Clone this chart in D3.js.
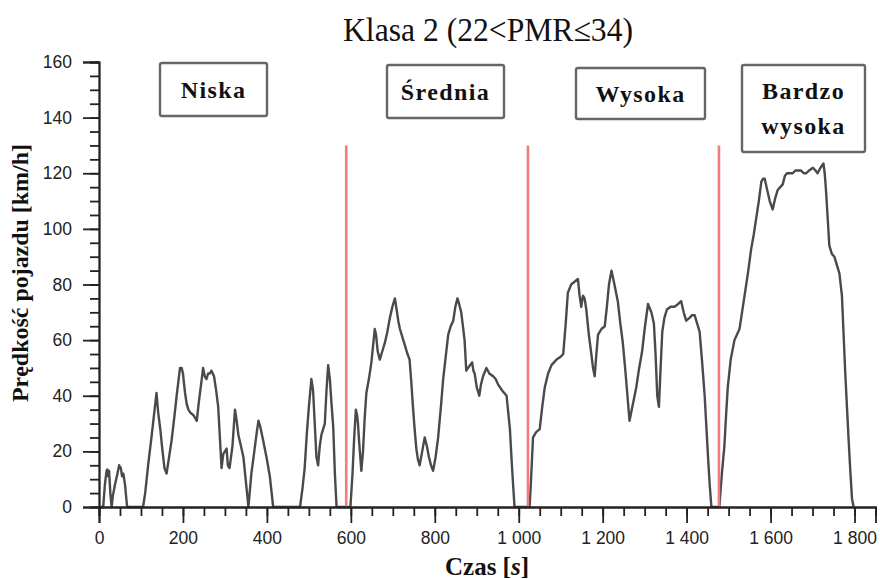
<!DOCTYPE html>
<html><head><meta charset="utf-8">
<script src="https://cdn.jsdelivr.net/npm/d3@7/dist/d3.min.js"></script>
<style>body{margin:0;background:#fff}</style></head>
<body><svg id="c" width="880" height="579" xmlns="http://www.w3.org/2000/svg"></svg>
<script>
// ---- data ----
const lowTime  = [0,10,14,18,20,22,24,27,30,33,38,44,48,52,55,58,62,67,105,110,117,125,131,137,141,146,150,156,161,166,173,180,185,189,193,197,200,205,209,213,217,225,233,238,244,248,252,256,260,264,268,274,279,284,288,292,296,300,304,307,311,318,324,328,332,338,344,350,356,363,370,376,380,384,391,399,407,415,479,485,490,495,500,506,510,514,518,522,526,530,534,538,542,546,550,554,558,562,566,589];
const lowSpeed = [0,0,8,13,13.5,11,13,5,0,4,8,12,15,14,11,12,8,0,0,5,15,25,33,41,34,28,22,14,12,17,24,33,40,45,50,50,48,41,37,35,34,33,31,38,45,50,47,46,48,48,49,47,42,36,25,14,19,20,21,15,14,22,35,31,26,22,18,9,0,12,20,27,31,29,24,18,11,0,0,7,14,26,36,46,42,30,18,15,22,26,28,30,42,51,46,37,29,12,0,0];
const midTime  = [589,599,604,608,612,615,617,620,623,625,629,633,637,643,649,653,657,660,664,669,675,681,687,693,699,705,709,713,717,723,729,735,740,744,748,752,756,760,764,770,776,781,786,791,796,802,808,814,820,826,832,838,844,849,854,858,863,867,871,875,879,884,889,892,895,900,906,910,915,923,930,939,945,951,960,971,975,979,983,987,990,1022];
const midSpeed = [0,0,12,25,35,33,30,23,17,13,20,32,41,46,52,58,64,62,56,53,56,59,63,68,72,75,71,67,64,61,58,55,53,45,36,28,21,17,15,20,25,22,18,15,13,18,25,35,46,54,62,65,67,72,75,73,70,65,60,49,50,51,52,49,48,43,40,44,47,50,48,47,46,44,42,40,34,28,17,7,0,0];
const highTime = [1022,1026,1030,1034,1042,1050,1056,1062,1070,1078,1090,1100,1106,1112,1117,1125,1133,1141,1145,1149,1153,1157,1161,1167,1173,1177,1181,1185,1189,1197,1205,1210,1215,1221,1228,1236,1242,1248,1254,1259,1264,1272,1280,1287,1294,1300,1308,1316,1322,1326,1330,1334,1338,1342,1347,1353,1362,1371,1380,1387,1393,1399,1407,1413,1419,1425,1431,1437,1443,1447,1451,1455,1459,1477];
const highSpeed= [0,0,12,25,27,28,36,43,48,51,53,54,55,66,77,80,81,82,76,72,76,75,71,62,55,50,47,55,62,64,65,72,80,85,80,74,66,59,49,40,31,37,43,50,56,64,73,70,66,55,40,36,50,63,68,71,72,72,73,74,70,67,68,69,69,66,63,52,40,29,18,8,0,0];
const exTime   = [1477,1478,1484,1490,1494,1498,1505,1514,1520,1526,1532,1538,1546,1554,1560,1566,1572,1578,1582,1586,1592,1598,1605,1611,1617,1623,1629,1634,1639,1646,1653,1659,1665,1672,1679,1685,1692,1701,1707,1712,1719,1726,1729,1732,1736,1740,1746,1752,1758,1764,1770,1774,1778,1782,1786,1790,1794,1798,1800];
const exSpeed  = [0,0,12,22,33,43,53,60,62,64,70,76,84,93,98,104,110,117,118,118,114,110,107,111,114,115,116,119,120,120,120,121,121,121,120,120,121,122,121,120,122,123.5,120,114,104,94,91,90,87,84,76,62,48,36,24,13,3,0,0];
const phaseBounds = [589,1022,1477];
const phaseLabels = [["Niska"],["Średnia"],["Wysoka"],["Bardzo","wysoka"]];
const xMajorTicks = [0,200,400,600,800,1000,1200,1400,1600,1800];
const yMajorTicks = [0,20,40,60,80,100,120,140,160];
const titleText = "Klasa 2 (22<PMR≤34)";
const yTitle = "Prędkość pojazdu [km/h]";

// ---- layout ----
const svg = d3.select("#c");
const x = d3.scaleLinear().domain([0,1850]).range([99, 875.5]);
const y = d3.scaleLinear().domain([0,160]).range([507, 62]);
const fmtX = d => d3.format(",d")(d).replace(/,/g," ");
const tickFont = "'Liberation Sans', Arial, sans-serif";
const axisCol = "#222222";
const serif = "'Liberation Serif','Times New Roman',serif";

// data line
const line = d3.line().x(d=>x(d[0])).y(d=>y(d[1]));
const series = [[lowTime,lowSpeed],[midTime,midSpeed],[highTime,highSpeed],[exTime,exSpeed]];
const pts = [];
series.forEach(([t,s])=>t.forEach((tt,i)=>pts.push([tt,s[i]])));
svg.append("path").datum(pts).attr("d",line).attr("fill","none")
  .attr("stroke","#4a4a4a").attr("stroke-width",2.4).attr("stroke-linejoin","round");

// phase boundaries
svg.selectAll(".pb").data(phaseBounds).enter().append("line")
  .attr("x1",d=>x(d)).attr("x2",d=>x(d)).attr("y1",y(0)).attr("y2",y(130))
  .attr("stroke","#f27b7b").attr("stroke-width",2.6);

// phase label boxes
const boxes = [
  {x0:160,y0:63,x1:267,y1:116},
  {x0:387,y0:65,x1:504,y1:118},
  {x0:576,y0:68,x1:705,y1:119},
  {x0:742,y0:65,x1:865,y1:152}
];
boxes.forEach((b,i)=>{
  svg.append("rect").attr("x",b.x0).attr("y",b.y0).attr("width",b.x1-b.x0).attr("height",b.y1-b.y0)
    .attr("rx",2).attr("fill","#fff").attr("stroke","#666").attr("stroke-width",2.4);
  const lines = phaseLabels[i];
  const cy = (b.y0+b.y1)/2;
  lines.forEach((txt,j)=>{
    svg.append("text").attr("x",(b.x0+b.x1)/2).attr("y",cy + (j-(lines.length-1)/2)*35 + 8)
      .attr("text-anchor","middle").attr("font-family",serif).attr("font-weight","bold")
      .attr("font-size",24).attr("letter-spacing",1.4).attr("fill","#111").text(txt);
  });
});

// axes (drawn last, on top)
const xMinor = svg.append("g").attr("transform",`translate(0,${y(0)})`)
  .call(d3.axisBottom(x).tickValues(d3.range(0,1851,50)).tickSize(9).tickFormat(()=>""));
const xMajor = svg.append("g").attr("transform",`translate(0,${y(0)})`)
  .call(d3.axisBottom(x).tickValues(xMajorTicks).tickSize(16).tickPadding(9).tickFormat(fmtX));
const yMinor = svg.append("g").attr("transform",`translate(${x(0)},0)`)
  .call(d3.axisLeft(y).tickValues(d3.range(0,161,5)).tickSize(9).tickFormat(()=>""));
const yMajor = svg.append("g").attr("transform",`translate(${x(0)},0)`)
  .call(d3.axisLeft(y).tickValues(yMajorTicks).tickSize(16).tickPadding(11));
[xMinor,xMajor,yMinor,yMajor].forEach(g=>{
  g.selectAll(".tick line").attr("stroke",axisCol).attr("stroke-width",1.8);
  g.selectAll(".domain").attr("stroke",axisCol).attr("stroke-width",1.8);
  g.selectAll("text").attr("font-family",tickFont).attr("font-size",17.5).attr("fill","#222");
});

// titles
svg.append("text").attr("x",488).attr("y",41).attr("text-anchor","middle")
  .attr("font-family",serif).attr("font-size",33).attr("fill","#111")
  .attr("textLength",290).attr("lengthAdjust","spacingAndGlyphs").text(titleText);
svg.append("text").attr("transform",`translate(28,273) rotate(-90)`).attr("text-anchor","middle")
  .attr("font-family",serif).attr("font-weight","bold").attr("font-size",24)
  .attr("textLength",258).attr("lengthAdjust","spacingAndGlyphs")
  .attr("fill","#111").text(yTitle);
const xt = svg.append("text").attr("x",487).attr("y",575).attr("text-anchor","middle")
  .attr("font-family",serif).attr("font-weight","bold").attr("font-size",25).attr("fill","#111");
xt.append("tspan").text("Czas [");
xt.append("tspan").attr("font-style","italic").text("s");
xt.append("tspan").text("]");
</script></body></html>
